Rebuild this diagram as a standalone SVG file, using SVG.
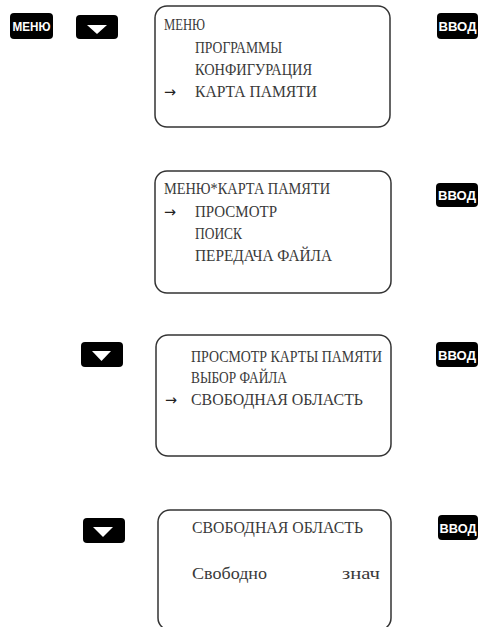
<svg xmlns="http://www.w3.org/2000/svg" width="480" height="627" viewBox="0 0 480 627">
<style>
.scr{fill:#ffffff;stroke:#333333;stroke-width:1.5}
.t{font-family:"Liberation Serif","Times New Roman",serif;font-size:16px;fill:#3a3a3a}
.ar{font-family:"DejaVu Sans",sans-serif;font-size:15px;fill:#222222}
.btn{fill:#000000}
.bt{font-family:"Liberation Sans",Arial,sans-serif;font-weight:bold;font-size:13px;fill:#ffffff;text-anchor:middle}
.tri{fill:#ffffff}
</style>
<rect width="480" height="627" fill="#ffffff"/>
<g id="connectors"/>

<g id="btn-menu">
<rect class="btn" x="10" y="13" width="43" height="26" rx="4"/>
<text class="bt" x="31.5" y="31" textLength="38" lengthAdjust="spacingAndGlyphs">МЕНЮ</text>
</g>
<g id="btn-down-1">
<rect class="btn" x="76" y="15" width="42" height="24" rx="4"/>
<polygon class="tri" points="87,25 107,25 97,34"/>
</g>
<g id="btn-enter-1">
<rect class="btn" x="437" y="13" width="41" height="26" rx="4"/>
<text class="bt" x="457.5" y="30.5" textLength="38" lengthAdjust="spacingAndGlyphs">ВВОД</text>
</g>

<g id="screen-1">
<rect class="scr" x="155" y="6" width="235" height="121" rx="12"/>
<text class="t" x="164" y="30" textLength="41" lengthAdjust="spacingAndGlyphs">МЕНЮ</text>
<text class="t" x="195" y="53" textLength="87" lengthAdjust="spacingAndGlyphs">ПРОГРАММЫ</text>
<text class="t" x="195" y="75" textLength="117" lengthAdjust="spacingAndGlyphs">КОНФИГУРАЦИЯ</text>
<text class="ar" x="164" y="97" textLength="12" lengthAdjust="spacingAndGlyphs">→</text>
<text class="t" x="195" y="97" textLength="122" lengthAdjust="spacingAndGlyphs">КАРТА ПАМЯТИ</text>
</g>

<g id="screen-2">
<rect class="scr" x="155" y="171" width="236" height="122" rx="12"/>
<text class="t" x="164" y="194" textLength="166" lengthAdjust="spacingAndGlyphs">МЕНЮ*КАРТА ПАМЯТИ</text>
<text class="ar" x="164" y="217" textLength="12" lengthAdjust="spacingAndGlyphs">→</text>
<text class="t" x="195" y="217" textLength="82" lengthAdjust="spacingAndGlyphs">ПРОСМОТР</text>
<text class="t" x="195" y="239" textLength="47" lengthAdjust="spacingAndGlyphs">ПОИСК</text>
<text class="t" x="195" y="261" textLength="137" lengthAdjust="spacingAndGlyphs">ПЕРЕДАЧА ФАЙЛА</text>
</g>
<g id="btn-enter-2">
<rect class="btn" x="436" y="183" width="42" height="24" rx="4"/>
<text class="bt" x="457" y="200" textLength="38" lengthAdjust="spacingAndGlyphs">ВВОД</text>
</g>

<g id="btn-down-2">
<rect class="btn" x="81" y="342" width="42" height="25" rx="4"/>
<polygon class="tri" points="92,351 111,351 101.5,361"/>
</g>
<g id="screen-3">
<rect class="scr" x="156" y="335" width="235" height="121" rx="12"/>
<text class="t" x="191" y="362" textLength="191" lengthAdjust="spacingAndGlyphs">ПРОСМОТР КАРТЫ ПАМЯТИ</text>
<text class="t" x="191" y="383" textLength="96" lengthAdjust="spacingAndGlyphs">ВЫБОР ФАЙЛА</text>
<text class="ar" x="165" y="405" textLength="12" lengthAdjust="spacingAndGlyphs">→</text>
<text class="t" x="191" y="405" textLength="172" lengthAdjust="spacingAndGlyphs">СВОБОДНАЯ ОБЛАСТЬ</text>
</g>
<g id="btn-enter-3">
<rect class="btn" x="436" y="342" width="42" height="25" rx="4"/>
<text class="bt" x="457" y="359.5" textLength="38" lengthAdjust="spacingAndGlyphs">ВВОД</text>
</g>

<g id="btn-down-3">
<rect class="btn" x="83" y="518" width="42" height="25" rx="4"/>
<polygon class="tri" points="93,527 113,527 103,537"/>
</g>
<g id="screen-4">
<rect class="scr" x="158" y="510" width="233" height="120" rx="12"/>
<text class="t" x="192" y="533" textLength="171" lengthAdjust="spacingAndGlyphs">СВОБОДНАЯ ОБЛАСТЬ</text>
<text class="t" x="192" y="579" textLength="75" lengthAdjust="spacingAndGlyphs">Свободно</text>
<text class="t" x="342" y="579" textLength="38" lengthAdjust="spacingAndGlyphs">знач</text>
</g>
<g id="btn-enter-4">
<rect class="btn" x="438" y="515" width="40" height="25" rx="4"/>
<text class="bt" x="458" y="532.5" textLength="37" lengthAdjust="spacingAndGlyphs">ВВОД</text>
</g>
</svg>
